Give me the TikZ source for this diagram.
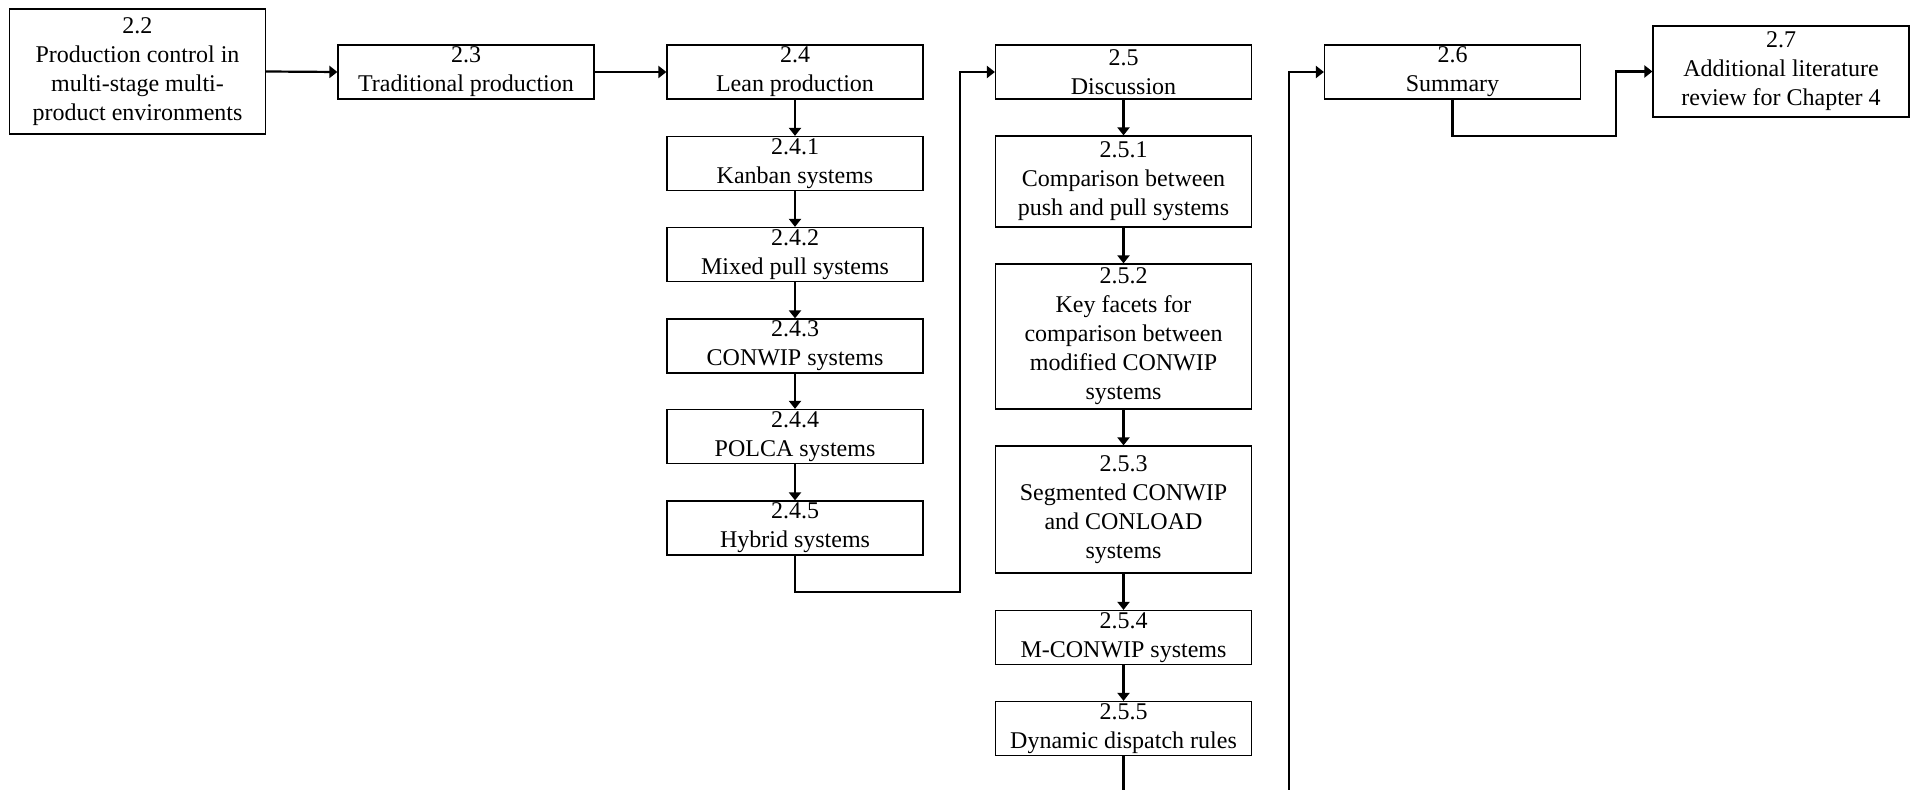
\documentclass[tikz,border=0pt]{standalone}
\usepackage{fontspec}
\setmainfont{Liberation Serif}
\usetikzlibrary{arrows.meta}

\begin{document}
\begin{tikzpicture}[x=0.5pt,y=-0.5pt,line width=1.1pt,>={Triangle[length=4pt,width=6pt]},
  secbox/.style={draw,line width=0.6pt,rectangle,inner sep=0pt,minimum width=128pt,
    minimum height=27pt,align=center,font=\fontsize{12}{14.5}\selectfont}]
\useasboundingbox (0,0) rectangle (1916,790);
% ---------- top row ----------
\node[secbox,minimum height=62.5pt] (s22) at (137.5,71.5)
  {2.2\\Production control in\\multi-stage multi-\\product environments};
\node[secbox] (s23) at (466,72) {2.3\\Traditional production};
\node[secbox] (s24) at (795,72) {2.4\\Lean production};
\node[secbox] (s25) at (1123.5,72) {2.5\\Discussion};
\node[secbox] (s26) at (1452.5,72) {2.6\\Summary};
\node[secbox,minimum height=45.5pt] (s27) at (1781,71.5)
  {2.7\\Additional literature\\review for Chapter 4};
% ---------- lean production column ----------
\node[secbox] (s241) at (795,163.5) {2.4.1\\Kanban systems};
\node[secbox] (s242) at (795,254.5) {2.4.2\\Mixed pull systems};
\node[secbox] (s243) at (795,346) {2.4.3\\CONWIP systems};
\node[secbox] (s244) at (795,436.5) {2.4.4\\POLCA systems};
\node[secbox] (s245) at (795,528) {2.4.5\\Hybrid systems};
% ---------- discussion column ----------
\node[secbox,minimum height=45.5pt] (s251) at (1123.5,181.5)
  {2.5.1\\Comparison between\\push and pull systems};
\node[secbox,minimum height=72.5pt] (s252) at (1123.5,336.5)
  {2.5.2\\Key facets for\\comparison between\\modified CONWIP\\systems};
\node[secbox,minimum height=63.5pt] (s253) at (1123.5,509.5)
  {2.5.3\\Segmented CONWIP\\and CONLOAD\\systems};
\node[secbox] (s254) at (1123.5,637.5) {2.5.4\\M-CONWIP systems};
\node[secbox] (s255) at (1123.5,728.5) {2.5.5\\Dynamic dispatch rules};
% ---------- bend points ----------
\coordinate (k1) at (960,592);
\coordinate (k2) at (1616,136);
\coordinate (out1) at (1123.5,790);
\coordinate (in1) at (1289,790);
% ---------- connectors ----------
\draw[->] (s22.east) -- (s23.west);
\draw[->] (s23.east) -- (s24.west);
\draw[->] (s24) -- (s241);
\draw[->] (s241) -- (s242);
\draw[->] (s242) -- (s243);
\draw[->] (s243) -- (s244);
\draw[->] (s244) -- (s245);
\draw[->] (s245.south) |- (k1) |- (s25.west);
\draw[->] (s25) -- (s251);
\draw[->] (s251) -- (s252);
\draw[->] (s252) -- (s253);
\draw[->] (s253) -- (s254);
\draw[->] (s254) -- (s255);
\draw (s255.south) -- (out1);
\draw[->] (in1) |- (s26.west);
\draw[->] (s26.south) |- (k2) |- (s27.west);
\end{tikzpicture}
\end{document}
